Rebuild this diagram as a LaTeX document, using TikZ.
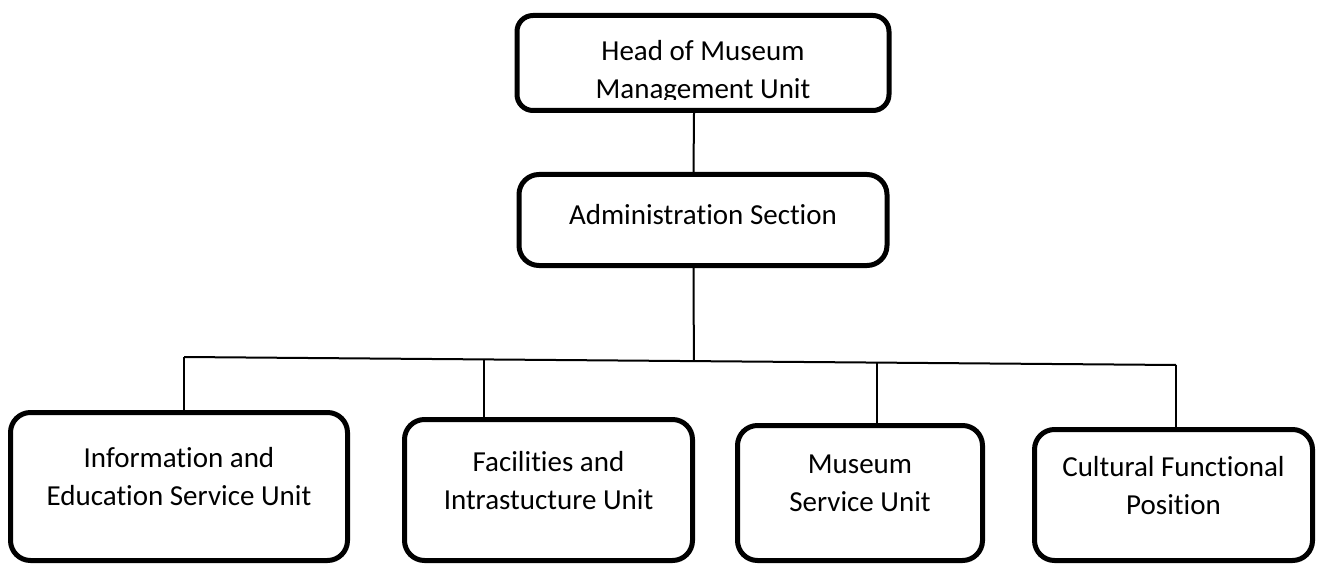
\documentclass[tikz,border=0pt]{standalone}
\usepackage{fontspec}
\setmainfont{Carlito}[Ligatures=NoCommon]
\usetikzlibrary{positioning,calc}

\begin{document}
\begin{tikzpicture}[
  x=1pt, y=-1pt,
  unit/.style={draw, line width=5pt, rounded corners=20pt, align=center, inner sep=0pt,
    font=\fontsize{29}{38}\selectfont},
  label text/.style={align=center, inner sep=0pt, font=\fontsize{29}{38}\selectfont},
  link/.style={line width=2pt},
  node distance=59pt
]
\useasboundingbox (0,0) rectangle (1317,564);

% top of the chart
\node[unit, rounded corners=16pt, minimum width=372pt, minimum height=95pt] (head) at (703,63) {};
\begin{scope}
  \clip (517,15) rectangle (890,100);
  \node[label text] (headtext) at (703,72) {Head of Museum\\Management Unit};
\end{scope}

\node[unit, below=of head, minimum width=368pt, minimum height=91pt, text depth=12pt] (admin)
  {Administration Section};

% the four units
\node[unit, minimum width=337pt, minimum height=148pt, text depth=20pt] (info) at (179,486.5)
  {Information and\\Education Service Unit};
\node[unit, minimum width=288pt, minimum height=141pt, text depth=20pt] (facil) at (548.5,490)
  {Facilities and\\Intrastucture Unit};
\node[unit, minimum width=245pt, minimum height=135pt, text depth=20pt] (service) at (860,493)
  {Museum\\Service Unit};
\node[unit, minimum width=278pt, minimum height=131pt, text depth=20pt] (cultural) at (1173.5,495)
  {Cultural Functional\\Position};

% connectors
\coordinate (barL) at (184,357);
\coordinate (barR) at (1176,365);
\draw[link] ([xshift=-9pt]head.south) -- ([xshift=-9.5pt]admin.north);
\draw[link] ([xshift=-9.5pt]admin.south) -- ($(barL)!0.514!(barR)$);
\draw[link] (barL) -- (barR);
\foreach \t/\n in {0/info, 0.3024/facil, 0.6986/service, 1/cultural}
  \draw[link] ($(barL)!\t!(barR)$) coordinate (drop) -- (drop |- \n.north);

\end{tikzpicture}
\end{document}
